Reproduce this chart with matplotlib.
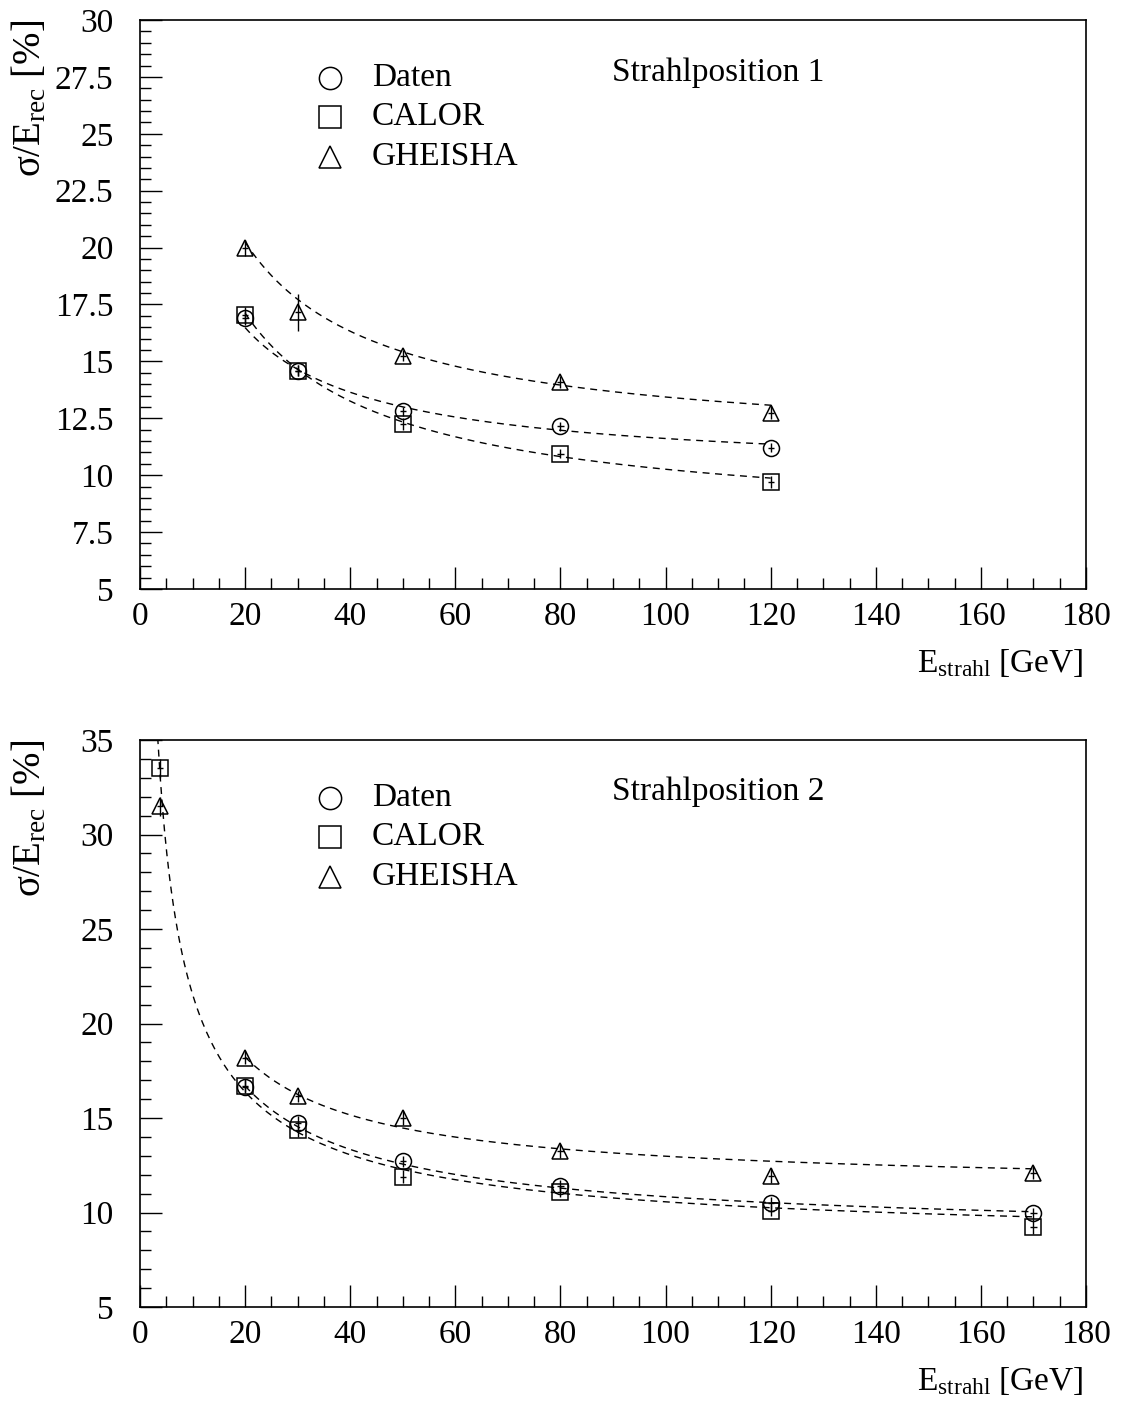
import numpy as np
import matplotlib
matplotlib.use('Agg')
import matplotlib.pyplot as plt
from matplotlib.ticker import MultipleLocator, FormatStrFormatter

# top panel data (Strahlposition 1)
E1 = [20, 30, 50, 80, 120]
daten1 = [16.9, 14.6, 12.8, 12.15, 11.2]
daten1_err = [0.3, 0.25, 0.2, 0.2, 0.2]
calor1 = [17.05, 14.6, 12.25, 10.95, 9.7]
calor1_err = [0.35, 0.25, 0.25, 0.2, 0.25]
gheisha1 = [20.0, 17.15, 15.25, 14.1, 12.75]
gheisha1_err = [0.35, 0.8, 0.25, 0.25, 0.3]

# bottom panel data (Strahlposition 2)
E2_daten = [20, 30, 50, 80, 120, 170]
daten2 = [16.65, 14.75, 12.7, 11.4, 10.5, 9.95]
daten2_err = [0.35, 0.35, 0.3, 0.3, 0.3, 0.3]
E2_sim = [3.8, 20, 30, 50, 80, 120, 170]
calor2 = [33.5, 16.7, 14.35, 11.9, 11.1, 10.1, 9.25]
calor2_err = [0.5, 0.35, 0.35, 0.35, 0.3, 0.3, 0.4]
gheisha2 = [31.5, 18.2, 16.15, 15.0, 13.25, 11.95, 12.1]
gheisha2_err = [0.5, 0.35, 0.3, 0.35, 0.35, 0.4, 0.35]

# fit parameters sigma/E = a/sqrt(E) (+) b, and fit ranges
fit1 = {'Daten': (58.5, 10.03, 20, 120), 'CALOR': (68.5, 7.64, 20, 120),
        'GHEISHA': (75.7, 11.1, 20, 120)}
fit2 = {'Daten': (63.5, 8.78, 20, 170), 'CALOR': (62.6, 8.51, 3.0, 170),
        'GHEISHA': (64.0, 11.29, 20, 170)}

plt.rcParams['font.family'] = 'Liberation Serif'
plt.rcParams['mathtext.fontset'] = 'custom'
plt.rcParams['mathtext.rm'] = 'Liberation Serif'
plt.rcParams['mathtext.it'] = 'Liberation Serif:italic'

FS = 24
fig = plt.figure(figsize=(11.23, 14.03), dpi=100)
W, H = 1123, 1403
ax1 = fig.add_axes([140 / W, 1 - 589 / H, 946 / W, 569 / H])
ax2 = fig.add_axes([140 / W, 1 - 1307 / H, 946 / W, 567 / H])

markers = {'Daten': 'o', 'CALOR': 's', 'GHEISHA': '^'}
msize = {'Daten': 11.5, 'CALOR': 11.5, 'GHEISHA': 12}


def draw_series(ax, x, y, err, name):
    ax.errorbar(x, y, yerr=err, xerr=0.6, fmt=markers[name], ms=msize[name],
                mfc='none', mec='black', mew=1.1, ecolor='black',
                elinewidth=1.0, capsize=0, zorder=3)


def draw_fit(ax, params):
    a, b, e0, e1 = params
    e = np.linspace(e0, e1, 400)
    ax.plot(e, np.sqrt(a ** 2 / e + b ** 2), color='black', lw=1.0,
            linestyle=(0, (5, 4)), zorder=2)


def style_axis(ax, ymin, ymax, ymaj, ymin_step, fmt):
    ax.set_xlim(0, 180)
    ax.set_ylim(ymin, ymax)
    ax.xaxis.set_major_locator(MultipleLocator(20))
    ax.xaxis.set_minor_locator(MultipleLocator(5))
    ax.yaxis.set_major_locator(MultipleLocator(ymaj))
    ax.yaxis.set_minor_locator(MultipleLocator(ymin_step))
    ax.yaxis.set_major_formatter(FormatStrFormatter(fmt))
    ax.tick_params(which='both', direction='in', top=False, right=False,
                   labelsize=FS, width=1.0, color='black')
    ax.tick_params(which='major', length=16)
    ax.tick_params(which='minor', length=8)
    ax.tick_params(axis='x', pad=9)
    ax.tick_params(axis='y', pad=19)
    for s in ax.spines.values():
        s.set_linewidth(1.2)
    ax.text(0.997, -0.13, r'E$_{\mathrm{strahl}}$ [GeV]', transform=ax.transAxes,
            ha='right', va='center', fontsize=FS)


def legend(ax, title):
    names = ['Daten', 'CALOR', 'GHEISHA']
    ys = [0.898, 0.8295, 0.759]
    for n, yy in zip(names, ys):
        ax.plot([0.2008], [yy], marker=markers[n], ms=16, mfc='none',
                mec='black', mew=1.1, transform=ax.transAxes, clip_on=False)
        ax.text(0.245, yy, n, transform=ax.transAxes, ha='left', va='center',
                fontsize=FS)
    ax.text(0.499, ys[0] + 0.01, title, transform=ax.transAxes, ha='left',
            va='center', fontsize=FS)


# top panel
style_axis(ax1, 5, 30, 2.5, 0.5, '%g')
for name, p in fit1.items():
    draw_fit(ax1, p)
draw_series(ax1, E1, daten1, daten1_err, 'Daten')
draw_series(ax1, E1, calor1, calor1_err, 'CALOR')
draw_series(ax1, E1, gheisha1, gheisha1_err, 'GHEISHA')
legend(ax1, 'Strahlposition 1')

# bottom panel
style_axis(ax2, 5, 35, 5, 1, '%g')
for name, p in fit2.items():
    draw_fit(ax2, p)
draw_series(ax2, E2_daten, daten2, daten2_err, 'Daten')
draw_series(ax2, E2_sim, calor2, calor2_err, 'CALOR')
draw_series(ax2, E2_sim, gheisha2, gheisha2_err, 'GHEISHA')
legend(ax2, 'Strahlposition 2')

ylab = r'σ/E$_{\mathrm{rec}}$ [%]'
fig.text(0.027, 1 - 20 / H, ylab, rotation=90, ha='center', va='top', fontsize=28)
fig.text(0.027, 1 - 740 / H, ylab, rotation=90, ha='center', va='top', fontsize=28)

fig.savefig('out.png', dpi=100, facecolor='white')
